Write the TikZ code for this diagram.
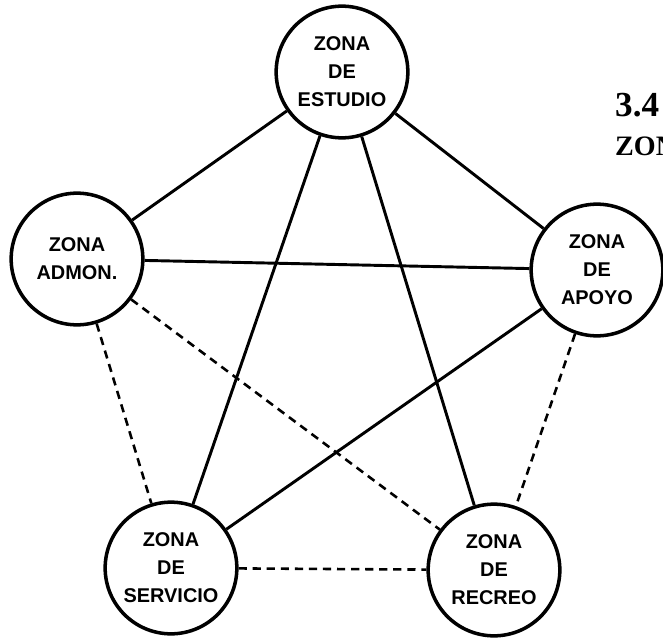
\documentclass[tikz,border=0pt]{standalone}
\usepackage{fontspec}
\setmainfont{Liberation Serif}
\setsansfont{Liberation Sans}
\usetikzlibrary{positioning}

\begin{document}
\begin{tikzpicture}[
  x=0.03cm, y=-0.03cm,
  zona/.style={draw, circle, line width=3pt, minimum size=3.95cm, inner sep=0pt,
    font=\sffamily\bfseries\fontsize{17}{24}\selectfont, align=center},
  fuerte/.style={line width=2.5pt},
  debil/.style={line width=2.2pt, dash pattern=on 7pt off 5pt},
  titulo/.style={anchor=base west, inner sep=0pt, font=\rmfamily\bfseries\fontsize{30}{32}\selectfont}
]
  \useasboundingbox (0,0) rectangle (663,641);

  % zonas
  \node[zona] (est) at (342,72)  {ZONA\\DE\\ESTUDIO};
  \node[zona] (adm) at (77,259)  {ZONA\\ADMON.};
  \node[zona] (apo) at (597,270) {ZONA\\DE\\APOYO};
  \node[zona] (ser) at (171,568) {ZONA\\DE\\SERVICIO};
  \node[zona] (rec) at (494,570) {ZONA\\DE\\RECREO};

  % titulo (cortado por el borde)
  \node[titulo] (num) at (615,116) {3.4};
  \node[titulo, font=\rmfamily\bfseries\fontsize{24}{26}\selectfont] (sub) at (615,155) {ZON};

  % relaciones directas
  \draw[fuerte] (est) -- (adm);
  \draw[fuerte] (est) -- (apo);
  \draw[fuerte] (est) -- (ser);
  \draw[fuerte] (est) -- (rec);
  \draw[fuerte] (adm) -- (apo);
  \draw[fuerte] (apo) -- (ser);

  % relaciones indirectas
  \draw[debil] (adm) -- (ser);
  \draw[debil] (adm) -- (rec);
  \draw[debil] (apo) -- (rec);
  \draw[debil] (ser) -- (rec);
\end{tikzpicture}
\end{document}
